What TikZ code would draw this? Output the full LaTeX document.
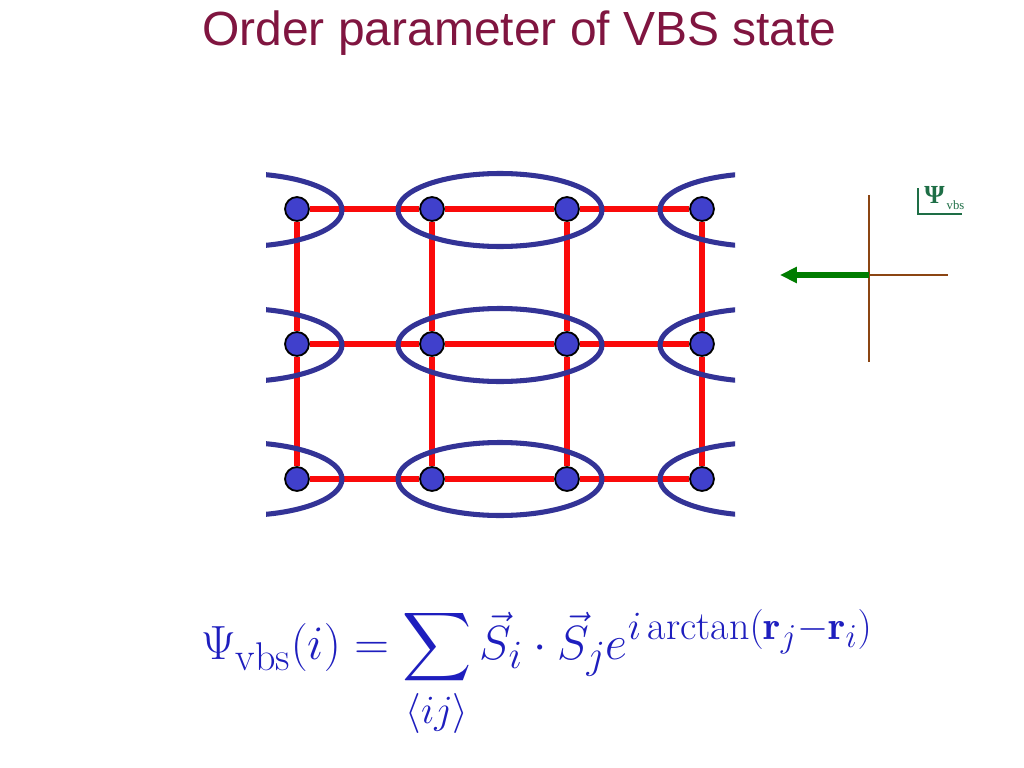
\documentclass[tikz,border=0pt]{standalone}
\usepackage{fontspec}
\usepackage{amsmath}
\usepackage{graphicx}
\newfontfamily\titlefont{Liberation Sans}
\newfontfamily\labfont{Liberation Serif}
\usetikzlibrary{arrows.meta}
\definecolor{titlecol}{RGB}{128,21,64}
\definecolor{dotblue}{RGB}{64,64,204}
\definecolor{ellcol}{RGB}{51,51,150}
\definecolor{latred}{RGB}{250,10,10}
\definecolor{axbrown}{RGB}{139,69,19}
\definecolor{argreen}{RGB}{0,125,0}
\definecolor{labgreen}{RGB}{30,110,70}
\definecolor{formblue}{RGB}{30,30,190}
\tikzset{
  site/.style={circle,draw=black,line width=1.3pt,fill=dotblue,minimum size=17pt,inner sep=0pt},
  bond/.style={draw=latred,line width=3.6pt},
  dimer/.style={draw=ellcol,line width=3.6pt},
  axis/.style={draw=axbrown,line width=1.4pt},
  order/.style={draw=argreen,line width=4pt,-{Triangle[length=12pt,width=11pt]}},
}
\begin{document}
\begin{tikzpicture}[x=0.025cm,y=-0.025cm]
\useasboundingbox (0,0) rectangle (1024,768);
% title
\node[text=titlecol,font=\titlefont\fontsize{34.1}{40}\selectfont,anchor=base] (title) at (519.5,46) {Order parameter of VBS state};
% sites
\foreach \c/\x in {1/297,2/432,3/567,4/702}{
  \foreach \r/\y in {1/209,2/344,3/479}{
    \node[site] (d\r\c) at (\x,\y) {};
  }
}
% bonds
\foreach \r in {1,2,3}{
  \draw[bond] (d\r1) -- (d\r2);
  \draw[bond] (d\r2) -- (d\r3);
  \draw[bond] (d\r3) -- (d\r4);
}
\foreach \c in {1,2,3,4}{
  \draw[bond] (d1\c) -- (d2\c);
  \draw[bond] (d2\c) -- (d3\c);
}
% dimers
\begin{scope}
\clip (266,100) rectangle (735,560);
\foreach \y in {210,345,479}{
  \draw[dimer] (240,\y) ellipse [x radius=102,y radius=36.5];
  \draw[dimer] (500,\y) ellipse [x radius=102,y radius=36.5];
  \draw[dimer] (762,\y) ellipse [x radius=102,y radius=36.5];
}
\end{scope}
% order parameter axes
\coordinate (o) at (869,275);
\coordinate (vt) at (869,195);
\coordinate (vb) at (869,362);
\coordinate (hr) at (948,275);
\coordinate (tip) at (780,275);
\draw[axis] (vt) -- (vb);
\draw[axis] (o) -- (hr);
\draw[order] (o) -- (tip);
% axis label
\coordinate (l1) at (918,188);
\coordinate (l2) at (918,214);
\coordinate (l3) at (962,214);
\draw[draw=labgreen,line width=0.9pt] (l1) -- (l2) -- (l3);
\node[text=labgreen,anchor=base west,inner sep=0pt,font=\labfont\fontsize{18.5}{20}\selectfont] (lab) at (924,203) {\textbf{Ψ}\kern1.5pt\raisebox{-4.6pt}{\fontsize{9}{10}\selectfont vbs}};
% formula
\node[text=formblue,font=\fontsize{24.88}{30}\selectfont,anchor=base] (formula) at (537,659)
  {\scalebox{1.373}{$\displaystyle \Psi_{\rm vbs}(i) = \sum_{\langle ij\rangle} \vec{S}_i\cdot\vec{S}_j e^{i\arctan(\mathbf{r}_j-\mathbf{r}_i)}$}};
\end{tikzpicture}
\end{document}
